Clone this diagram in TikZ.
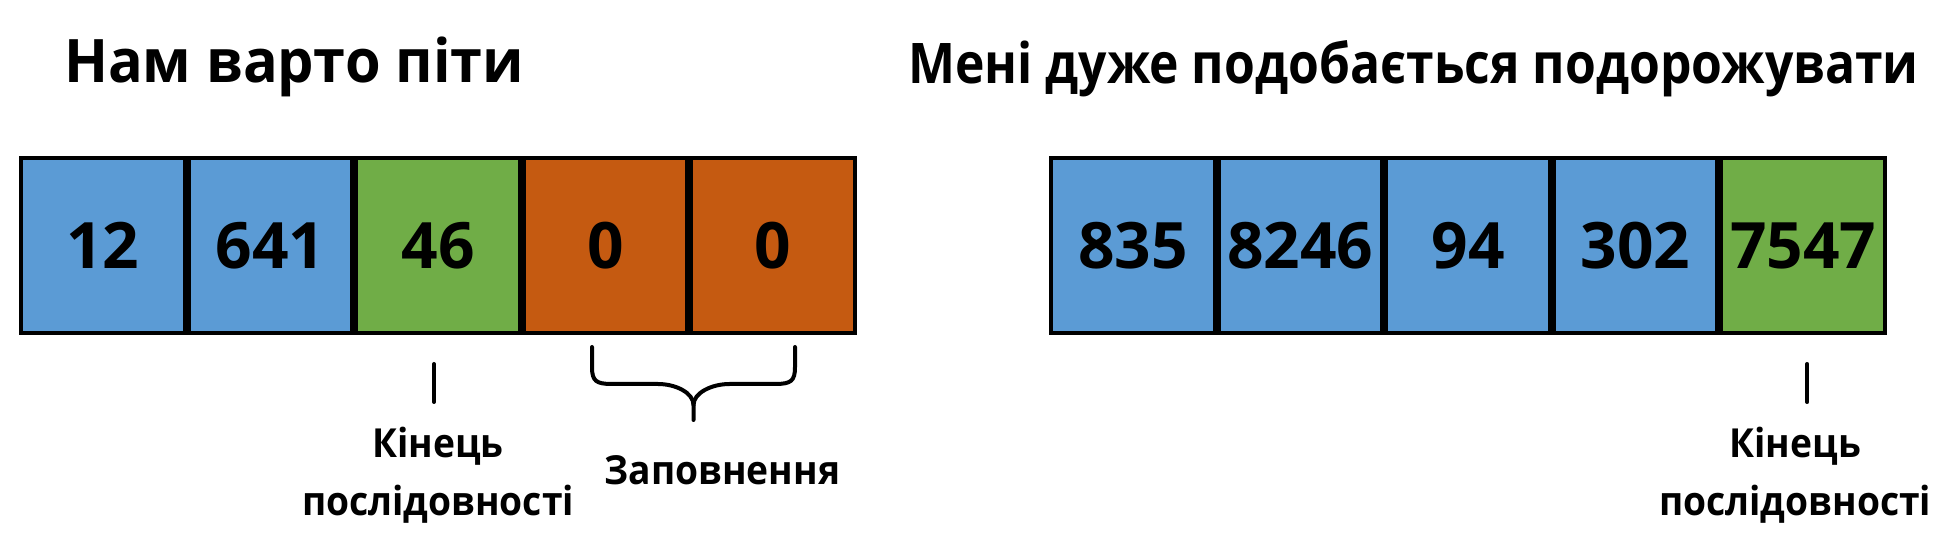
\documentclass[tikz,border=0pt]{standalone}
\usepackage{fontspec}
\setmainfont{Open Sans}
\usetikzlibrary{positioning}

\definecolor{cellblue}{HTML}{5B9BD5}
\definecolor{cellgreen}{HTML}{70AD47}
\definecolor{cellorange}{HTML}{C55A11}

\begin{document}
\begin{tikzpicture}[
    x = 0.5pt, y = 0.5pt, % one unit is one pixel
    node distance = 0pt, % cells touch each other
    line width = 2pt, % line style
    line cap = round
    ]

    \tikzset{
    cell/.style = {draw = black, inner sep = 0pt,
        minimum width = 81.8pt, minimum height = 87.5pt,
        font = \bfseries\fontsize{32}{36}\selectfont},
    title/.style = {inner sep = 0pt, font = \bfseries\fontsize{#1}{36}\selectfont},
    lbl/.style = {inner sep = 0pt, align = center,
        font = \bfseries\fontsize{20}{29}\selectfont\addfontfeature{FakeStretch=0.93}},
    tickline/.style = {draw = black, line width = 2pt}
    }

    \useasboundingbox (0,0) rectangle (1946,-544);

    % first sentence
    \node[title = 30, anchor = base west] (t1) at (62,-83)
        {\addfontfeature{FakeStretch=0.96}Нам варто піти};
    \node[cell, fill = cellblue, anchor = north west] (a1) at (19,-156) {12};
    \node[cell, fill = cellblue] (a2) [right=of a1] {641};
    \node[cell, fill = cellgreen] (a3) [right=of a2] {46};
    \node[cell, fill = cellorange] (a4) [right=of a3] {0};
    \node[cell, fill = cellorange] (a5) [right=of a4] {0};

    \coordinate (e1t) at ([xshift=-2pt, yshift=-14.5pt]a3.south);
    \coordinate (e1b) at ([xshift=-2pt, yshift=-33.5pt]a3.south);
    \path[tickline] (e1t) -- (e1b);
    \node[lbl, below=11.5pt of e1b, xshift=2pt] (end1) {Кінець\\послідовності};

    % padding brace
    \coordinate (padl) at (592,-347);
    \coordinate (padr) at (795,-347);
    \coordinate (padtip) at (693.5,-420);
    \draw (padl) -- ++(0,-20) .. controls ++(0,-14) and ++(-16,0) .. ++(20,-17)
        -- ++(46,0) .. controls ++(18,0) and ++(0,12) .. ([yshift=7.5pt]padtip)
        -- (padtip);
    \draw (padr) -- ++(0,-20) .. controls ++(0,-14) and ++(16,0) .. ++(-20,-17)
        -- ++(-45.5,0) .. controls ++(-18,0) and ++(0,12) .. ([yshift=7.5pt]padtip);
    \node[lbl, anchor = base] (pad) at ([xshift=14.5pt, yshift=-32pt]padtip) {Заповнення};

    % second sentence
    \node[title = 28, anchor = base west] (t2) at (906,-84)
        {\addfontfeature{FakeStretch=0.89}Мені дуже подобається подорожувати};
    \node[cell, fill = cellblue, anchor = north west] (b1) at (1049,-156) {835};
    \node[cell, fill = cellblue] (b2) [right=of b1] {8246};
    \node[cell, fill = cellblue] (b3) [right=of b2] {94};
    \node[cell, fill = cellblue] (b4) [right=of b3] {302};
    \node[cell, fill = cellgreen] (b5) [right=of b4] {7547};

    \coordinate (e2t) at ([xshift=2pt, yshift=-14.5pt]b5.south);
    \coordinate (e2b) at ([xshift=2pt, yshift=-33.5pt]b5.south);
    \path[tickline] (e2t) -- (e2b);
    \node[lbl, below=11.5pt of e2b, xshift=-6pt] (end2) {Кінець\\послідовності};
\end{tikzpicture}
\end{document}
